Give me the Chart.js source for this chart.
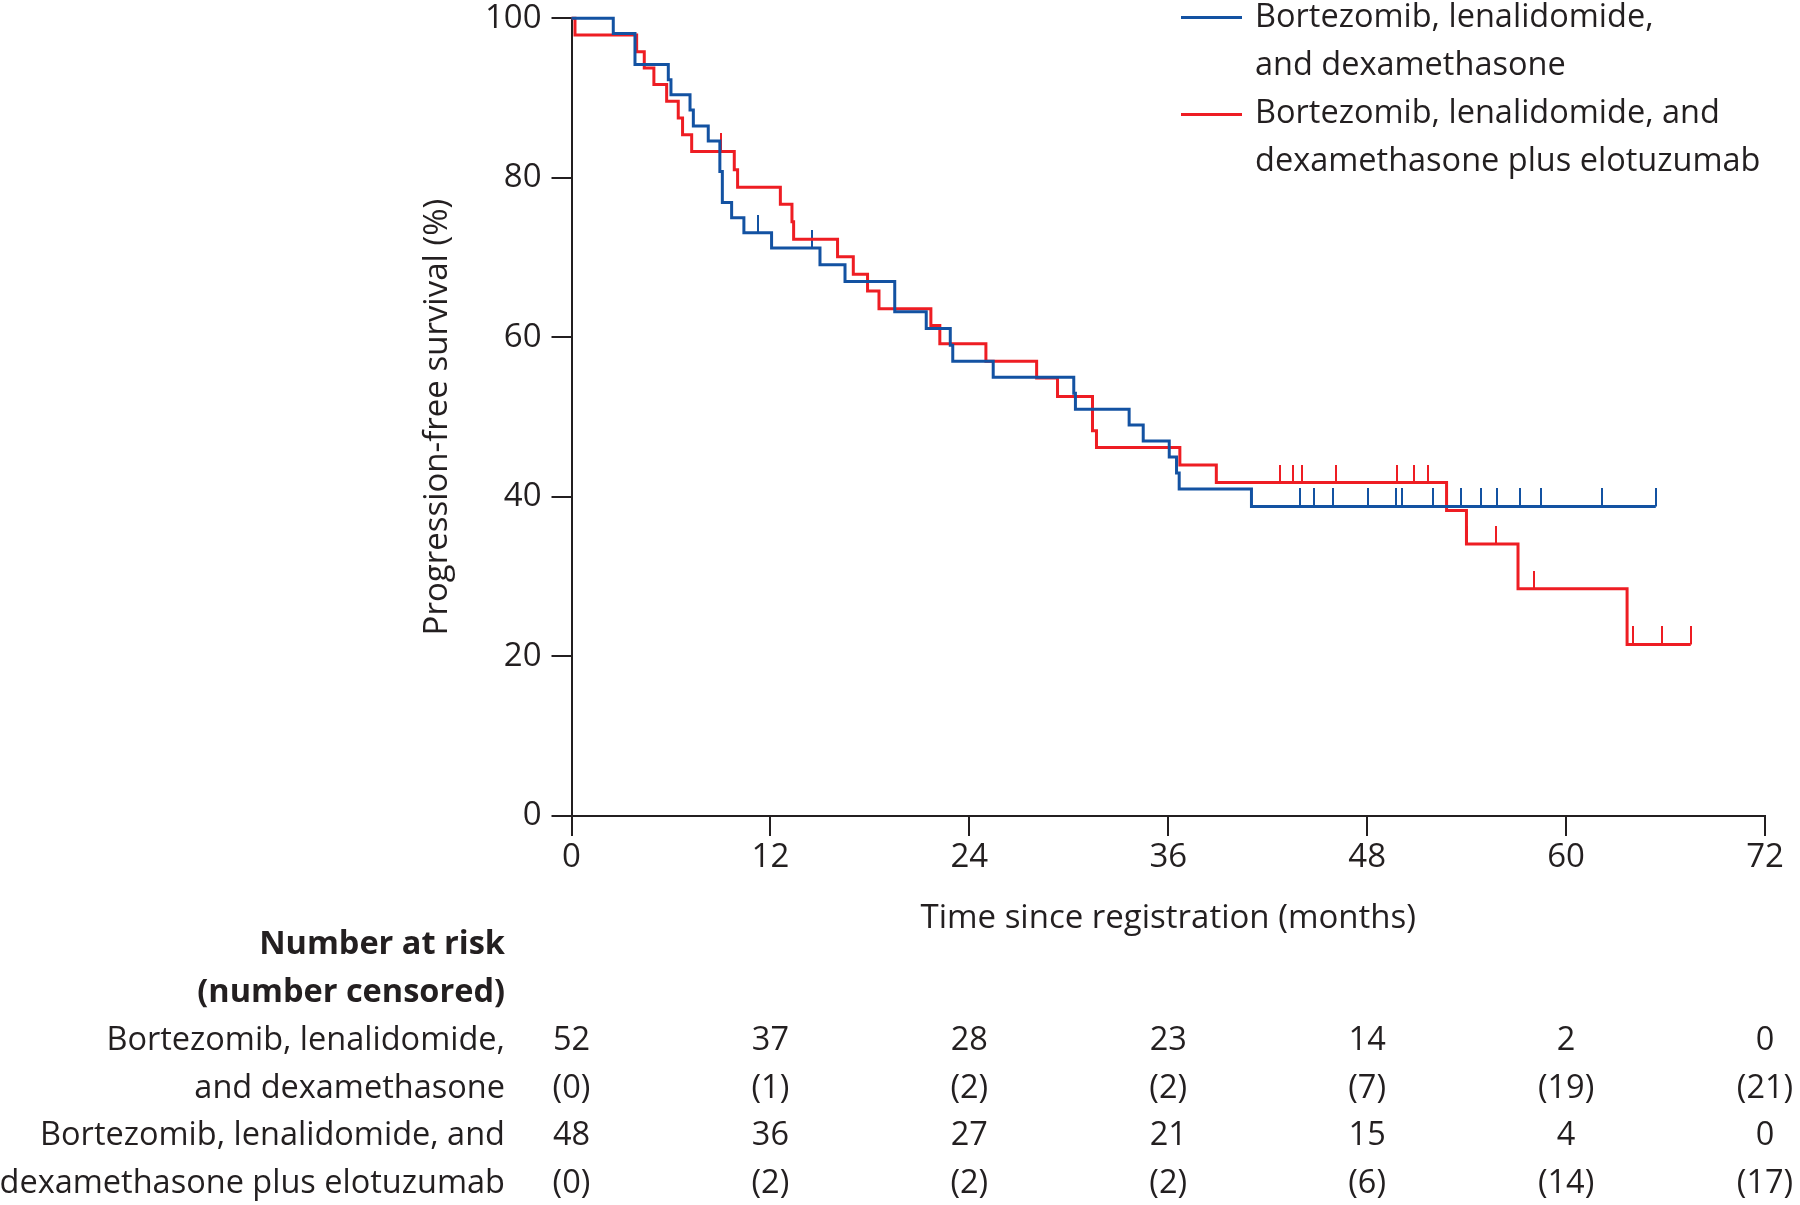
<!DOCTYPE html>
<html>
<head>
<meta charset="utf-8">
<script src="https://cdn.jsdelivr.net/npm/chart.js@4.4.1/dist/chart.umd.min.js"></script>
<style>
  html, body { margin: 0; padding: 0; background: #fff; }
  #wrap { position: relative; width: 1800px; height: 1205px; font-family: 'Open Sans', sans-serif; color: #231f20; overflow: hidden; }
  #km { position: absolute; left: 0; top: 0; }
  .txt { position: absolute; font-size: 32.5px; line-height: 48px; white-space: nowrap; }
  .label { right: 1295px; text-align: right; }
  .num { width: 160px; text-align: center; }
  .swatch { position: absolute; left: 1181px; width: 61px; height: 3px; }
</style>
</head>
<body>
<div id="wrap">
  <canvas id="km" width="1800" height="1205"></canvas>
</div>
<script>
const xTicks = [0, 12, 24, 36, 48, 60, 72];
const yTicks = [0, 20, 40, 60, 80, 100];

// Kaplan-Meier steps: month of each drop, PFS (%) after the drop
const vrdMonths = [0, 2.52, 3.83, 5.84, 6.0, 7.15, 7.35, 8.25, 8.95, 9.1, 9.66, 10.4, 12.07, 14.99, 16.5, 19.5, 21.4,
  22.85, 23.0, 25.44, 30.3, 30.4, 33.64, 34.49, 36.06, 36.5, 36.66, 41.02, 65.41];
const vrdPFS = [100, 98.1, 94.2, 92.3, 90.4, 88.5, 86.5, 84.6, 80.8, 76.9, 75.0, 73.1, 71.2, 69.1, 67.0, 63.2, 61.1,
  59.0, 57.0, 55.0, 53.0, 51.0, 49.0, 47.0, 45.0, 43.0, 41.0, 38.8, 38.8];
const vrdCensored = [11.27, 14.5, 41.02, 43.94, 44.8, 45.91, 48.06, 49.71, 50.13, 51.98, 53.69, 54.86, 55.86,
  57.25, 58.46, 62.17, 65.41];

const eloMonths = [0, 0.21, 3.93, 4.39, 4.97, 5.74, 6.44, 6.7, 7.25, 9.82, 10.02, 12.6, 13.3, 13.4, 16.05, 17.0,
  17.86, 18.55, 21.68, 22.22, 25.0, 28.06, 29.32, 31.43, 31.67, 36.7, 38.9, 52.79, 53.99, 57.1, 63.68, 67.52];
const eloPFS = [100, 97.9, 95.8, 93.75, 91.7, 89.6, 87.5, 85.4, 83.3, 81.0, 78.8, 76.7, 74.5, 72.3, 70.1, 67.9,
  65.8, 63.6, 61.5, 59.2, 57.0, 54.9, 52.6, 48.3, 46.2, 44.0, 41.8, 38.3, 34.1, 28.5, 21.5, 21.5];
const eloCensored = [9.02, 42.73, 43.5, 44.04, 46.09, 49.79, 50.81, 51.66, 54.0, 55.8, 58.07, 64.04, 65.79, 67.52];

// Number at risk table
const riskMonths = [0, 12, 24, 36, 48, 60, 72];
const vrdAtRisk = [52, 37, 28, 23, 14, 2, 0];
const vrdNumCensored = [0, 1, 2, 2, 7, 19, 21];
const eloAtRisk = [48, 36, 27, 21, 15, 4, 0];
const eloNumCensored = [0, 2, 2, 2, 6, 14, 17];

const vrdName = ['Bortezomib, lenalidomide,', 'and dexamethasone'];
const eloName = ['Bortezomib, lenalidomide, and', 'dexamethasone plus elotuzumab'];

const BLUE = '#1352a2';
const RED = '#ee1d23';
const INK = '#231f20';
const FONT = "'Open Sans', sans-serif";

function pfsAt(months, pfs, t) {
  let v = pfs[0];
  for (let i = 0; i < months.length; i++) {
    if (months[i] <= t + 1e-9) v = pfs[i];
  }
  return v;
}

function steps(months, pfs) {
  return months.map((m, i) => ({ x: m, y: pfs[i] }));
}

function censorPoints(times, months, pfs) {
  return times.map(t => ({ x: t, y: pfsAt(months, pfs, t) }));
}

// upward tick, drawn with its foot on the curve
function censorMark(color) {
  const c = document.createElement('canvas');
  c.width = 2;
  c.height = 36;
  const g = c.getContext('2d');
  g.fillStyle = color;
  g.fillRect(0, 0, 2, 18);
  return c;
}

const tickFont = { family: FONT, size: 33, lineHeight: 1.2 };
const titleFont = { family: FONT, size: 33, lineHeight: 1.2 };

const chart = new Chart(document.getElementById('km'), {
  type: 'scatter',
  data: {
    datasets: [
      { data: steps(vrdMonths, vrdPFS), showLine: true, stepped: true, borderColor: BLUE, borderWidth: 3,
        pointRadius: 0, clip: false },
      { data: steps(eloMonths, eloPFS), showLine: true, stepped: true, borderColor: RED, borderWidth: 3,
        pointRadius: 0, clip: false },
      { data: censorPoints(vrdCensored, vrdMonths, vrdPFS), pointStyle: censorMark(BLUE), pointRadius: 3, clip: false },
      { data: censorPoints(eloCensored, eloMonths, eloPFS), pointStyle: censorMark(RED), pointRadius: 3, clip: false },
    ]
  },
  options: {
    responsive: false,
    animation: false,
    events: [],
    layout: { padding: { left: 400, top: 16, right: 35, bottom: 259 } },
    plugins: { legend: { display: false }, tooltip: { enabled: false } },
    scales: {
      x: {
        type: 'linear', min: 0, max: 72,
        afterBuildTicks: s => { s.ticks = xTicks.map(v => ({ value: v })); },
        afterFit: s => { s.height = 130; },
        ticks: { font: tickFont, color: INK, padding: 2, maxRotation: 0 },
        grid: { drawOnChartArea: false, tickLength: 20, color: INK, lineWidth: 2 },
        border: { color: INK, width: 2 },
        title: { display: true, text: 'Time since registration (months)', font: titleFont, color: INK,
          padding: { top: 0, bottom: 8 } }
      },
      y: {
        type: 'linear', min: 0, max: 100,
        afterBuildTicks: s => { s.ticks = yTicks.map(v => ({ value: v })); },
        afterFit: s => { s.width = 171.5; },
        ticks: { font: { family: FONT, size: 33, lineHeight: 0.5 }, color: INK, padding: 10 },
        grid: { drawOnChartArea: false, tickLength: 20, color: INK, lineWidth: 2 },
        border: { color: INK, width: 2 },
        title: { display: true, text: 'Progression-free survival (%)', font: titleFont, color: INK,
          padding: { top: 18, bottom: 0 } }
      }
    }
  }
});

// --- Legend and number-at-risk table as text ---
const wrap = document.getElementById('wrap');

function addText(cls, text, left, baseline, extra) {
  const d = document.createElement('div');
  d.className = 'txt ' + cls;
  d.textContent = text;
  d.style.top = (baseline - 36.6) + 'px';
  if (left !== null) d.style.left = left + 'px';
  if (extra) Object.assign(d.style, extra);
  wrap.appendChild(d);
}

function addSwatch(color, y) {
  const s = document.createElement('div');
  s.className = 'swatch';
  s.style.top = (y - 1.5) + 'px';
  s.style.background = color;
  wrap.appendChild(s);
}

addSwatch(BLUE, 17.5);
addSwatch(RED, 114);
const legendLines = [...vrdName, ...eloName];
legendLines.forEach((t, i) => addText('', t, 1255, 27.3 + i * 48.1));

const rowBase = 955;
const rowGap = 47.7;
addText('label', 'Number at risk', null, rowBase, { fontWeight: 700 });
addText('label', '(number censored)', null, rowBase + rowGap, { fontWeight: 700 });

const rows = [
  { label: vrdName[0], values: vrdAtRisk.map(String) },
  { label: vrdName[1], values: vrdNumCensored.map(v => '(' + v + ')') },
  { label: eloName[0], values: eloAtRisk.map(String) },
  { label: eloName[1], values: eloNumCensored.map(v => '(' + v + ')') },
];

const xs = chart.scales.x;
rows.forEach((row, r) => {
  const base = rowBase + (r + 2) * rowGap;
  addText('label', row.label, null, base);
  row.values.forEach((v, i) => {
    addText('num', v, xs.getPixelForValue(riskMonths[i]) - 80, base);
  });
});
</script>
</body>
</html>
